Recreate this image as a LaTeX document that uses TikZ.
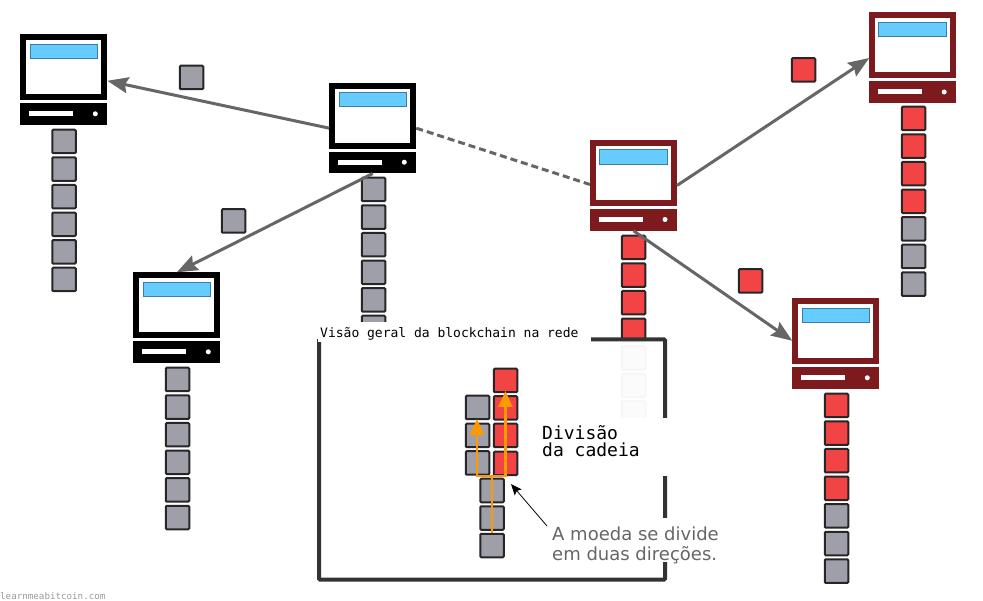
\documentclass[tikz,border=0pt]{standalone}
\usepackage{fontspec}
\usetikzlibrary{arrows.meta}
\newfontfamily\monofont{DejaVu Sans Mono}
\newfontfamily\notefont{DejaVu Sans}
\definecolor{darkred}{HTML}{7D1A1D}
\definecolor{screenblue}{HTML}{66CCFF}
\definecolor{screenline}{HTML}{3A7EA6}
\definecolor{blockgrey}{HTML}{9F9FA9}
\definecolor{blockred}{HTML}{F24444}
\definecolor{linegrey}{HTML}{666666}
\definecolor{forkorange}{HTML}{FF9900}

\tikzset{
  cframe/.style={rectangle, draw=#1, fill=white, line width=6pt, minimum width=81pt, minimum height=60pt, inner sep=0pt},
  cscreen/.style={rectangle, draw=screenline, fill=screenblue, line width=1pt, minimum width=67.5pt, minimum height=14.5pt, inner sep=0pt},
  cbase/.style={rectangle, fill=#1, minimum width=87pt, minimum height=21.6pt, inner sep=0pt},
  cslot/.style={rectangle, fill=white, minimum width=44.3pt, minimum height=5pt, inner sep=0pt},
  cdot/.style={circle, fill=white, minimum size=5pt, inner sep=0pt},
  block/.style={rectangle, draw=black!85, line width=2pt, rounded corners=1pt, minimum size=23.5pt, inner sep=0pt},
  gblock/.style={block, fill=blockgrey},
  rblock/.style={block, fill=blockred},
  link/.style={draw=linegrey, line width=3pt, -{Stealth[length=21pt,width=16pt,inset=3pt]}},
  forkline/.style={draw=forkorange, line width=2.5pt},
  mask/.style={rectangle, fill=white, inner sep=0pt}
}

% computer: name, left, top, colour
\newcommand{\computer}[4]{
  \node[cframe=#4] (#1frame) at (#2+43.5,#3+33) {};
  \node[cscreen] (#1screen) at (#2+43.5,#3+17) {};
  \node[cbase=#4] (#1base) at (#2+43.5,#3+79.8) {};
  \node[cslot] (#1slot) at (#2+30.8,#3+79.5) {};
  \node[cdot] (#1dot) at (#2+75,#3+79.5) {};
}

\begin{document}
\begin{tikzpicture}[x=1pt, y=-1pt, node distance=27.6pt]
  \useasboundingbox (0,0) rectangle (983,601);

  % Computers
  \computer{a}{20.3}{34.3}{black}
  \computer{b}{329.3}{82.7}{black}
  \computer{c}{133.3}{272.3}{black}
  \computer{d}{590}{140}{darkred}
  \computer{e}{869.2}{12.5}{darkred}
  \computer{f}{792.3}{298.3}{darkred}

  % Chains
  \node[gblock] (a1) at (64,141.5) {};
  \node[gblock, below of=a1] (a2) {};
  \node[gblock, below of=a2] (a3) {};
  \node[gblock, below of=a3] (a4) {};
  \node[gblock, below of=a4] (a5) {};
  \node[gblock, below of=a5] (a6) {};

  \node[gblock] (b1) at (373.5,189.5) {};
  \node[gblock, below of=b1] (b2) {};
  \node[gblock, below of=b2] (b3) {};
  \node[gblock, below of=b3] (b4) {};
  \node[gblock, below of=b4] (b5) {};
  \node[gblock, below of=b5] (b6) {};

  \node[gblock] (c1) at (177.5,379.5) {};
  \node[gblock, below of=c1] (c2) {};
  \node[gblock, below of=c2] (c3) {};
  \node[gblock, below of=c3] (c4) {};
  \node[gblock, below of=c4] (c5) {};
  \node[gblock, below of=c5] (c6) {};

  \node[rblock] (d1) at (633.5,247.5) {};
  \node[rblock, below of=d1] (d2) {};
  \node[rblock, below of=d2] (d3) {};
  \node[rblock, below of=d3] (d4) {};
  \node[gblock, below of=d4] (d5) {};
  \node[gblock, below of=d5] (d6) {};
  \node[gblock, below of=d6] (d7) {};

  \node[rblock] (e1) at (913.5,118.5) {};
  \node[rblock, below of=e1] (e2) {};
  \node[rblock, below of=e2] (e3) {};
  \node[rblock, below of=e3] (e4) {};
  \node[gblock, below of=e4] (e5) {};
  \node[gblock, below of=e5] (e6) {};
  \node[gblock, below of=e6] (e7) {};

  \node[rblock] (f1) at (836.5,405.5) {};
  \node[rblock, below of=f1] (f2) {};
  \node[rblock, below of=f2] (f3) {};
  \node[rblock, below of=f3] (f4) {};
  \node[gblock, below of=f4] (f5) {};
  \node[gblock, below of=f5] (f6) {};
  \node[gblock, below of=f6] (f7) {};

  % Blocks on the way
  \node[gblock] (senta) at (191.5,77.5) {};
  \node[gblock] (sentc) at (233.5,221) {};
  \node[rblock] (sente) at (803.5,70) {};
  \node[rblock] (sentf) at (750.5,281) {};

  % Arrows
  \draw[link] ([yshift=-12.5pt]bframe.west) -- ([yshift=-13.5pt]aframe.east);
  \draw[link] (bbase.south) -- (cframe.north);
  \draw[draw=linegrey, line width=3pt, dash pattern=on 7pt off 4pt] ([yshift=-12.5pt]bframe.east) -- ([yshift=-11.5pt]dframe.west);
  \draw[link] ([yshift=-12.5pt]dframe.east) -- ([yshift=-12.5pt]eframe.west);
  \draw[link] (dbase.south) -- ([yshift=-9.5pt]fframe.west);

  % Overview panel
  \node[rectangle, draw=black!80, fill=white, fill opacity=.96, draw opacity=1, line width=4pt, rounded corners=1pt, minimum width=346pt, minimum height=240pt, inner sep=0pt] (panel) at (492,459.5) {};
  \node[mask, minimum width=273pt, minimum height=20pt] (titlemask) at (454.5,332) {};
  \node[mask, minimum width=128pt, minimum height=58pt] (divmask) at (604,447) {};
  \node[mask, minimum width=174pt, minimum height=44pt] (notemask) at (635,540) {};
  \node[font=\monofont\fontsize{13}{15}\selectfont, anchor=west, inner sep=0pt] (title) at (320,334) {Visão geral da blockchain na rede};

  % Fork inside the panel
  \node[gblock] (low1) at (492,545.5) {};
  \node[gblock] (low2) at (492,518) {};
  \node[gblock] (low3) at (492,490.5) {};
  \node[gblock] (left1) at (477.5,463) {};
  \node[gblock] (left2) at (477.5,435.5) {};
  \node[gblock] (left3) at (477.5,407.5) {};
  \node[rblock] (right1) at (505.5,463.5) {};
  \node[rblock] (right2) at (505.5,435.5) {};
  \node[rblock] (right3) at (505.5,408) {};
  \node[rblock] (right4) at (505.5,380.5) {};

  \coordinate (fork) at (492,476);
  \coordinate (lefttip) at (477,419);
  \coordinate (righttip) at (505.5,391);
  \draw[forkline] (low1.north) -- (fork);
  \draw[forkline, -{Triangle[length=16pt,width=14pt]}] (fork) -| (lefttip);
  \draw[forkline, -{Triangle[length=16pt,width=14pt]}] (fork) -| (righttip);

  % Labels
  \node[font=\monofont\fontsize{18}{17.5}\selectfont, align=left, anchor=north west, inner sep=0pt] (divlabel) at (542,425) {Divisão\\da cadeia};
  \node[font=\notefont\fontsize{18}{20}\selectfont, text=linegrey, align=left, anchor=north west, inner sep=0pt] (note) at (552,526.5) {A moeda se divide\\em duas direções.};
  \coordinate (notestart) at (547,526);
  \coordinate (noteend) at (511,484);
  \draw[black, line width=.8pt, -{Stealth[length=11pt,width=9pt,inset=2pt]}] (notestart) -- (noteend);
  \node[font=\monofont\fontsize{9.2}{11}\selectfont, text=black!40, anchor=west, inner sep=0pt] (site) at (0,596.5) {learnmeabitcoin.com};
\end{tikzpicture}
\end{document}
